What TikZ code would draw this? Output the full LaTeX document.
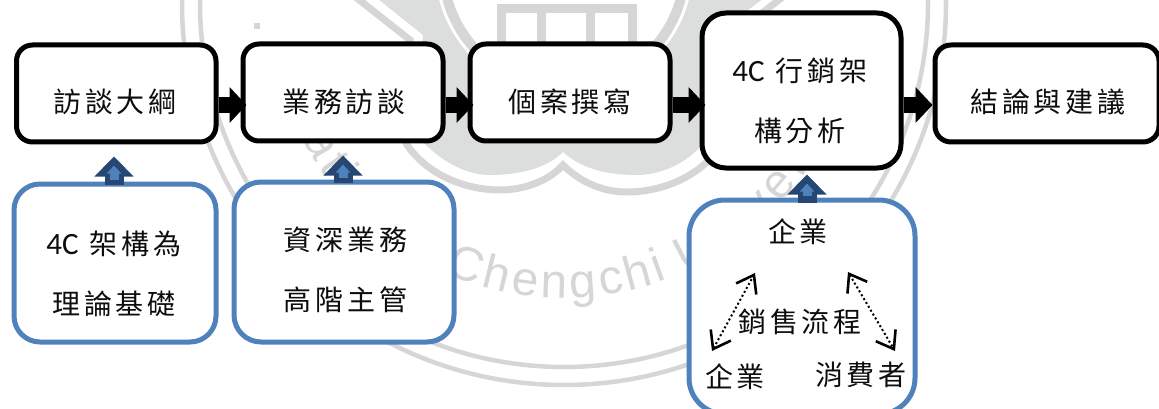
\documentclass[tikz,border=0pt]{standalone}
\usepackage{fontspec}
\usetikzlibrary{arrows.meta,calc,decorations.text}
\setmainfont[LetterSpace=14]{Noto Sans CJK TC}
\newfontfamily\latinface{Carlito}
\newfontfamily\sealface{Liberation Sans}
\definecolor{seal}{HTML}{DCDEDD}
\definecolor{sealline}{HTML}{D6D6D6}
\definecolor{framblue}{HTML}{4F81BD}
\definecolor{darkblue}{HTML}{264673}
\tikzset{
  x=1pt,y=-1pt,
  blackbox/.style={draw=black,fill=white,line width=5pt,rounded corners=#1},
  bluebox/.style={draw=framblue,fill=white,line width=5pt,rounded corners=#1},
  label text/.style={font=\fontsize{28}{60}\selectfont,align=center,text=black!95,inner sep=0pt},
  flowarrow/.style={draw=black,line width=16pt,-{Triangle[length=17pt,width=35pt]}},
  upouter/.style 2 args={draw=darkblue,line width=19pt,-{Triangle[length=20pt,width=38pt]},shorten >=#1,shorten <=#2},
  upinner/.style 2 args={draw=framblue,line width=9pt,-{Triangle[length=8pt,width=14pt]},shorten >=#1,shorten <=#2},
  saleflow/.style={draw=black,line width=2pt,dash pattern=on 2pt off 2.5pt,
    {Straight Barb[length=16pt,width=23pt,line width=2.6pt]}-{Straight Barb[length=16pt,width=23pt,line width=2.6pt]}},
  sealword/.style={decorate,decoration={text along path,text align={fit to path},
    text={|\sealface\fontsize{48}{48}\selectfont\color{sealline}|#1}}},
}
\newcommand{\fourC}{{\latinface\fontsize{31}{60}\selectfont 4C}\hspace{11pt}}
\begin{document}
\begin{tikzpicture}
\useasboundingbox (0,0) rectangle (1159,409);
% ---- watermark seal
\begin{scope}
\clip (0,0) rectangle (1159,409);
\fill[seal] (373,-5) -- (423,35) -- (417,100) .. controls (417,120) and (418,135) .. (423,142)
  .. controls (445,165) and (470,175) .. (490,175)
  .. controls (515,175) and (545,170) .. (563,152)
  .. controls (583,170) and (610,175) .. (636,175)
  .. controls (660,175) and (685,165) .. (705,142)
  .. controls (712,135) and (717,120) .. (715,100) -- (715,35) -- (768,-5) -- cycle;
\draw[sealline,line width=7pt] (353,-5) -- (410,40) -- (400,100) .. controls (400,120) and (402,135) .. (407,145)
  .. controls (430,178) and (470,190) .. (500,190)
  .. controls (525,190) and (550,180) .. (563,165)
  .. controls (578,180) and (600,192) .. (627,192)
  .. controls (660,192) and (700,178) .. (721,145)
  .. controls (726,135) and (730,120) .. (731,100) -- (728,40) -- (785,-5);
\fill[white] (564,-33) circle[radius=129];
\draw[sealline,line width=10pt] (564,-33) circle[radius=121];
\draw[sealline,line width=9pt] (501,60) -- (501,9) -- (632,9) -- (632,60);
\draw[sealline,line width=9pt] (541.5,9) -- (541.5,60) (590.5,9) -- (590.5,60);
\draw[sealline,line width=4.5pt] (564,3) circle[radius=382];
\draw[sealline,line width=4.5pt] (564,3) circle[radius=364];
\fill[sealline] (254,23) rectangle (260,29);
\path[sealword={National}] ($(564,3)+(160:295)$) arc[start angle=160,end angle=120,radius=295];
\path[sealword={Chengchi}] ($(564,3)+(113.8:295)$) arc[start angle=113.8,end angle=69.4,radius=295];
\path[sealword={University}] ($(564,3)+(66:295)$) arc[start angle=66,end angle=15,radius=295];
\end{scope}
% ---- boxes
\node[blackbox=16pt,minimum width=199.5pt,minimum height=97pt] (outline) at (116.25,93.5) {};
\node[blackbox=16pt,minimum width=200pt,minimum height=97pt] (interview) at (343,92.5) {};
\node[blackbox=16pt,minimum width=200pt,minimum height=97pt] (casewrite) at (570,92.5) {};
\node[blackbox=24pt,minimum width=199pt,minimum height=155pt] (analysis) at (801.5,90.5) {};
\node[blackbox=16pt,minimum width=224pt,minimum height=97pt] (conclusion) at (1047,93.5) {};
\node[bluebox=26pt,minimum width=202pt,minimum height=158pt] (theory) at (115,263) {};
\node[bluebox=27pt,minimum width=220pt,minimum height=160pt] (senior) at (344,262) {};
\node[bluebox=36pt,minimum width=226pt,minimum height=214pt] (sales) at (802,307) {};
% ---- flow arrows
\coordinate (flow) at (0,105);
\draw[flowarrow,shorten >=-6pt] (outline.east |- flow) -- (interview.west |- flow);
\draw[flowarrow,shorten >=-6pt] (interview.east |- flow) -- (casewrite.west |- flow);
\draw[flowarrow,shorten >=-6pt] (casewrite.east |- flow) -- (analysis.west |- flow);
\draw[flowarrow] (analysis.east |- flow) -- (conclusion.west |- flow);
% ---- up arrows
\coordinate (t1) at ([xshift=-1pt]theory.north);
\draw[upouter={12pt}{-3pt}] (t1) -- (t1 |- outline.south);
\draw[upinner={21pt}{2pt}] (t1) -- (t1 |- outline.south);
\coordinate (t2) at ([xshift=-1pt]senior.north);
\draw[upouter={12pt}{-3pt}] (t2) -- (t2 |- interview.south);
\draw[upinner={21pt}{2pt}] (t2) -- (t2 |- interview.south);
\coordinate (t3) at ([xshift=5pt]sales.north);
\draw[upouter={4pt}{-5pt}] (t3) -- (t3 |- analysis.south);
\draw[upinner={13pt}{2pt}] (t3) -- (t3 |- analysis.south);
% ---- texts
\node[label text] (l1) at (115,102) {訪談大綱};
\node[label text] (l2) at (344,102) {業務訪談};
\node[label text] (l3) at (570,102) {個案撰寫};
\node[label text] (l4) at (800,100.5) {\fourC 行銷架\\構分析};
\node[label text] (l5) at (1048,102) {結論與建議};
\node[label text] (l6) at (114,273.5) {\fourC 架構為\\理論基礎};
\node[label text] (l7) at (345.5,269.5) {資深業務\\高階主管};
\node[label text] (s1) at (798,232) {企業};
\node[label text] (s2) at (800,322) {銷售流程};
\node[label text] (s3) at (735,377) {企業};
\node[label text] (s4) at (861,375) {消費者};
% ---- dotted double arrows
\coordinate (dl1) at (712,351);
\coordinate (dl2) at (755,273);
\coordinate (dr1) at (848,272);
\coordinate (dr2) at (895,351);
\draw[saleflow] (dl1) -- (dl2);
\draw[saleflow] (dr1) -- (dr2);
\end{tikzpicture}
\end{document}
